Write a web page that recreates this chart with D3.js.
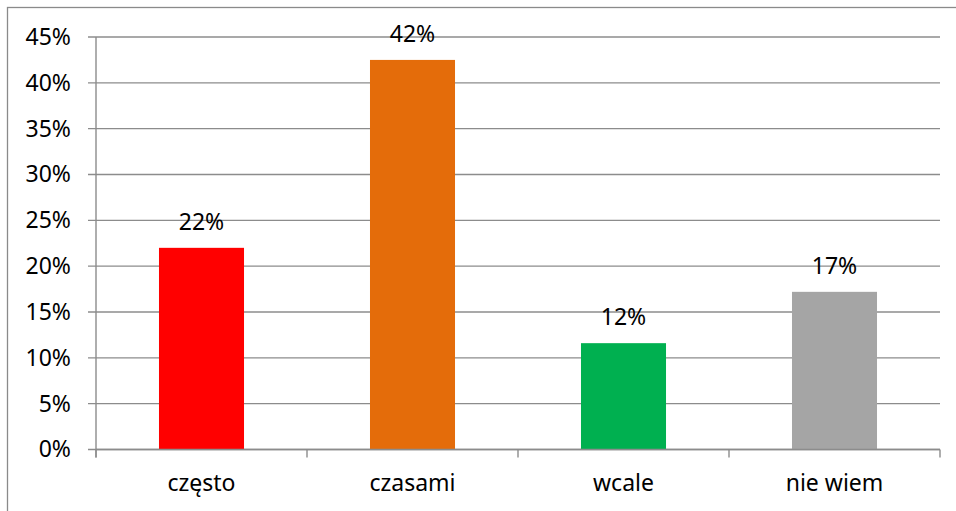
<!DOCTYPE html>
<html>
<head>
<meta charset="utf-8">
<script src="https://cdn.jsdelivr.net/npm/d3@7"></script>
<style>
  body { margin: 0; background: #fff; }
  text { font-family: "Noto Sans", sans-serif; font-size: 23px; fill: #000; }
</style>
</head>
<body>
<div id="chart"></div>
<script>
// Data
var categories = ["często", "czasami", "wcale", "nie wiem"];
var values = [0.22, 0.425, 0.116, 0.172];
var valueLabels = ["22%", "42%", "12%", "17%"];
var colors = ["#ff0000", "#e46c0a", "#00b050", "#a5a5a5"];
var yTicks = [0, 0.05, 0.10, 0.15, 0.20, 0.25, 0.30, 0.35, 0.40, 0.45];

var svgWidth = 956;
var svgHeight = 511;

// plot area
var cM = { top: 37, left: 96, right: 16, bottom: 61.5 };
var cW = svgWidth - cM.left - cM.right;
var cH = svgHeight - cM.top - cM.bottom;

var svg = d3.select("#chart")
  .append("svg")
  .attr("width", svgWidth)
  .attr("height", svgHeight);

// outer chart border
svg.append("rect")
  .attr("x", 7.5)
  .attr("y", 7.5)
  .attr("width", svgWidth + 10)
  .attr("height", svgHeight + 10)
  .style("fill", "none")
  .style("stroke", "#8a8a8a")
  .style("stroke-width", 1.3);

var chartGroup = svg.append("g")
  .attr("transform", `translate(${cM.left}, ${cM.top})`);

var xScale = d3.scaleBand()
  .domain(categories)
  .range([0, cW])
  .paddingInner(0.597)
  .paddingOuter(0.2985);

var yScale = d3.scaleLinear()
  .domain([0, 0.45])
  .range([cH, 0]);

// gridlines
chartGroup.append("g")
  .selectAll("line")
  .data(yTicks)
  .enter()
  .append("line")
  .attr("x1", -8)
  .attr("x2", cW)
  .attr("y1", d => yScale(d))
  .attr("y2", d => yScale(d))
  .style("stroke", "#8c8c8c")
  .style("stroke-width", 1.4);

// y axis
var leftAxis = d3.axisLeft(yScale)
  .tickValues(yTicks)
  .tickFormat(d3.format(".0%"))
  .tickSize(0)
  .tickSizeOuter(0)
  .tickPadding(25);

var yAxisG = chartGroup.append("g").call(leftAxis);
yAxisG.select(".domain").remove();
yAxisG.selectAll("text")
  .style("font-family", "'Noto Sans', sans-serif")
  .style("font-size", "23px")
  .attr("fill", "#000");

// vertical axis line
chartGroup.append("line")
  .attr("x1", 0).attr("x2", 0)
  .attr("y1", 0).attr("y2", cH + 8)
  .style("stroke", "#8c8c8c")
  .style("stroke-width", 1.4);

// bars
chartGroup.selectAll("rect.bar")
  .data(categories)
  .enter()
  .append("rect")
  .attr("class", "bar")
  .attr("x", d => xScale(d))
  .attr("y", (d, i) => yScale(values[i]))
  .attr("width", xScale.bandwidth())
  .attr("height", (d, i) => cH - yScale(values[i]))
  .attr("fill", (d, i) => colors[i]);

// x axis line and category boundary ticks
chartGroup.append("line")
  .attr("x1", 0).attr("x2", cW)
  .attr("y1", cH).attr("y2", cH)
  .style("stroke", "#8c8c8c")
  .style("stroke-width", 1.4);

var bounds = d3.range(categories.length + 1).map(i => i * xScale.step());
chartGroup.append("g")
  .selectAll("line")
  .data(bounds)
  .enter()
  .append("line")
  .attr("x1", d => d).attr("x2", d => d)
  .attr("y1", cH).attr("y2", cH + 8)
  .style("stroke", "#8c8c8c")
  .style("stroke-width", 1.4);

// category labels
chartGroup.selectAll("text.cat")
  .data(categories)
  .enter()
  .append("text")
  .attr("class", "cat")
  .attr("x", d => xScale(d) + xScale.bandwidth() / 2)
  .attr("y", cH + 41.5)
  .attr("text-anchor", "middle")
  .text(d => d);

// value labels
chartGroup.selectAll("text.val")
  .data(categories)
  .enter()
  .append("text")
  .attr("class", "val")
  .attr("x", d => xScale(d) + xScale.bandwidth() / 2)
  .attr("y", (d, i) => yScale(values[i]) - 18)
  .attr("text-anchor", "middle")
  .text((d, i) => valueLabels[i]);
</script>
</body>
</html>
